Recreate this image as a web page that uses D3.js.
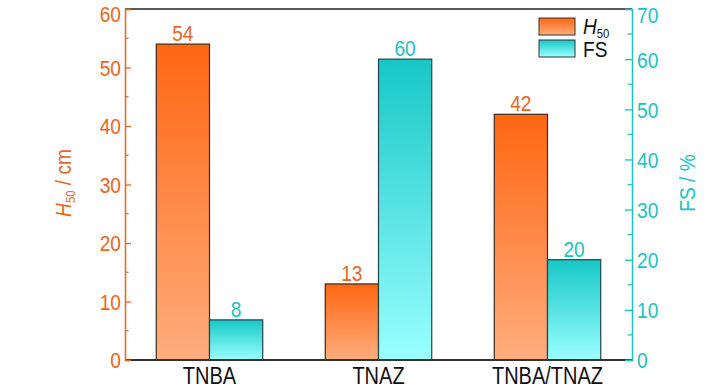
<!DOCTYPE html>
<html><head><meta charset="utf-8">
<script src="https://cdn.jsdelivr.net/npm/d3@7"></script>
<style>
body{margin:0;background:#fff;}
text{font-family:"Liberation Sans","Arial",sans-serif;transform-box:fill-box;transform-origin:center;transform:scaleX(0.87);}
</style></head>
<body><svg id="c" width="728" height="390"></svg>
<script>
const categories = ["TNBA", "TNAZ", "TNBA/TNAZ"];
const h50Values = [54, 13, 42];
const fsValues = [8, 60, 20];
const leftTicks = [0, 10, 20, 30, 40, 50, 60];
const rightTicks = [0, 10, 20, 30, 40, 50, 60, 70];

const orange = "#E8661E", teal = "#1BC2C2";
const svg = d3.select("#c");
const m = {l:125, r:632, t:9, b:360};
const x = d3.scaleBand().domain(categories).range([m.l, m.r]).paddingInner(0.37).paddingOuter(0.185);
const sub = d3.scaleBand().domain(["H50","FS"]).range([0, x.bandwidth()]);
const yL = d3.scaleLinear().domain([0,60]).range([m.b, m.t]);
const yR = d3.scaleLinear().domain([0,70]).range([m.b, m.t]);

const defs = svg.append("defs");
const go = defs.append("linearGradient").attr("id","go").attr("x1",0).attr("y1",0).attr("x2",0).attr("y2",1);
go.append("stop").attr("offset",0).attr("stop-color","#FF6612");
go.append("stop").attr("offset",1).attr("stop-color","#FFAD7E");
const gt = defs.append("linearGradient").attr("id","gt").attr("x1",0).attr("y1",0).attr("x2",0).attr("y2",1);
gt.append("stop").attr("offset",0).attr("stop-color","#17C7C7");
gt.append("stop").attr("offset",1).attr("stop-color","#9AFFFF");

// bars
svg.selectAll(".bo").data(categories).join("rect")
  .attr("x", d=>x(d)+sub("H50")).attr("width", sub.bandwidth())
  .attr("y", (d,i)=>yL(h50Values[i])).attr("height",(d,i)=>m.b-yL(h50Values[i]))
  .attr("fill","url(#go)").attr("stroke","#3a2a20").attr("stroke-width",1.2);
svg.selectAll(".bt").data(categories).join("rect")
  .attr("x", d=>x(d)+sub("FS")).attr("width", sub.bandwidth())
  .attr("y", (d,i)=>yR(fsValues[i])).attr("height",(d,i)=>m.b-yR(fsValues[i]))
  .attr("fill","url(#gt)").attr("stroke","#1f4545").attr("stroke-width",1.2);

// value labels
svg.selectAll(".lo").data(categories).join("text")
  .attr("x", d=>x(d)+sub("H50")+sub.bandwidth()/2).attr("y",(d,i)=>yL(h50Values[i])-3)
  .attr("text-anchor","middle").attr("font-size",22).attr("fill",orange).text((d,i)=>h50Values[i]);
svg.selectAll(".lt").data(categories).join("text")
  .attr("x", d=>x(d)+sub("FS")+sub.bandwidth()/2).attr("y",(d,i)=>yR(fsValues[i])-3)
  .attr("text-anchor","middle").attr("font-size",22).attr("fill",teal).text((d,i)=>fsValues[i]);

// frame top/bottom
svg.append("line").attr("x1",m.l).attr("x2",m.r).attr("y1",m.t).attr("y2",m.t).attr("stroke","#222").attr("stroke-width",1.5);
svg.append("line").attr("x1",m.l).attr("x2",m.r).attr("y1",m.b).attr("y2",m.b).attr("stroke","#333").attr("stroke-width",2);

// left axis
const gl = svg.append("g").attr("transform",`translate(${m.l},0)`)
  .call(d3.axisLeft(yL).tickValues(leftTicks).tickSize(-6).tickPadding(4).tickFormat(d3.format("d")));
gl.select(".domain").attr("stroke",orange).attr("stroke-width",1.5);
gl.selectAll(".tick line").attr("stroke",orange).attr("stroke-width",1.3);
gl.selectAll(".tick text").attr("fill",orange).attr("font-size",22)
  .attr("dy", d=> d===60 ? "0.55em" : "0.36em")
  .attr("font-family",'"Liberation Sans",Arial,sans-serif').style("transform-origin","right center");
svg.append("g").attr("transform",`translate(${m.l},0)`)
  .selectAll("line").data(d3.range(5,60,10)).join("line")
  .attr("x1",0).attr("x2",3.5).attr("y1",d=>yL(d)).attr("y2",d=>yL(d)).attr("stroke",orange).attr("stroke-width",1.2);

// right axis
const gr = svg.append("g").attr("transform",`translate(${m.r},0)`)
  .call(d3.axisRight(yR).tickValues(rightTicks).tickSize(-7).tickPadding(5).tickFormat(d3.format("d")));
gr.select(".domain").attr("stroke",teal).attr("stroke-width",1.5);
gr.selectAll(".tick line").attr("stroke",teal).attr("stroke-width",1.3);
gr.selectAll(".tick text").attr("fill",teal).attr("font-size",22)
  .attr("dy", d=> d===70 ? "0.6em" : "0.36em")
  .attr("font-family",'"Liberation Sans",Arial,sans-serif').style("transform-origin","left center");
svg.append("g").attr("transform",`translate(${m.r},0)`)
  .selectAll("line").data(d3.range(5,70,10)).join("line")
  .attr("x1",0).attr("x2",-4.5).attr("y1",d=>yR(d)).attr("y2",d=>yR(d)).attr("stroke",teal).attr("stroke-width",1.2);

// x labels
svg.selectAll(".xl").data(categories).join("text")
  .attr("x", d=>x(d)+x.bandwidth()/2).attr("y",384)
  .attr("text-anchor","middle").attr("font-size",23).attr("fill","#111").text(d=>d);

// axis titles
const tl = svg.append("g").attr("transform","translate(71,183) rotate(-90)").append("text")
  .attr("text-anchor","middle").attr("font-size",22).attr("fill",orange);
tl.append("tspan").attr("font-style","italic").text("H");
tl.append("tspan").attr("font-size",13).attr("dy",4).text("50");
tl.append("tspan").attr("dy",-4).text(" / cm");
svg.append("g").attr("transform","translate(695,183) rotate(-90)").append("text")
  .attr("text-anchor","middle").attr("font-size",22).attr("fill",teal).text("FS / %");

// legend
const lg = svg.append("g");
lg.append("rect").attr("x",539).attr("y",18).attr("width",36).attr("height",17).attr("fill","url(#go)").attr("stroke","#333").attr("stroke-width",1);
lg.append("rect").attr("x",539).attr("y",40).attr("width",36).attr("height",17).attr("fill","url(#gt)").attr("stroke","#333").attr("stroke-width",1);
const lt = lg.append("text").attr("x",583).attr("y",34).attr("font-size",22).attr("fill","#111").style("transform-origin","left center");
lt.append("tspan").attr("font-style","italic").text("H");
lt.append("tspan").attr("font-size",13).attr("dy",4).text("50");
lg.append("text").attr("x",583).attr("y",57).attr("font-size",22).attr("fill","#111").style("transform-origin","left center").text("FS");
</script></body></html>
